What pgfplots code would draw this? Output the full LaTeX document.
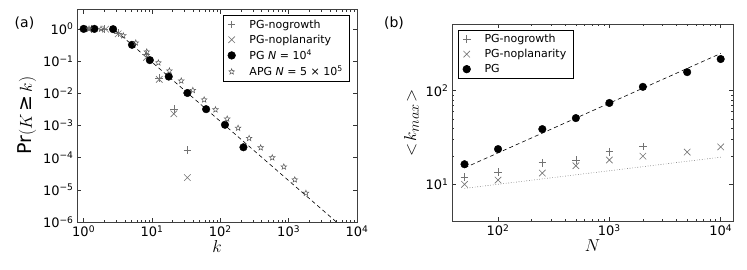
\documentclass[border=0pt]{standalone}
\usepackage{fontspec}
\setmainfont{DejaVu Sans}
\setsansfont{DejaVu Sans}
\usepackage{pgfplots}
\pgfplotsset{compat=1.18}
\pgfdeclareplotmark{ostar}{%
  \pgfpathmoveto{\pgfpointpolar{90}{\pgfplotmarksize}}%
  \pgfpathlineto{\pgfpointpolar{126}{0.42\pgfplotmarksize}}%
  \pgfpathlineto{\pgfpointpolar{162}{\pgfplotmarksize}}%
  \pgfpathlineto{\pgfpointpolar{198}{0.42\pgfplotmarksize}}%
  \pgfpathlineto{\pgfpointpolar{234}{\pgfplotmarksize}}%
  \pgfpathlineto{\pgfpointpolar{270}{0.42\pgfplotmarksize}}%
  \pgfpathlineto{\pgfpointpolar{306}{\pgfplotmarksize}}%
  \pgfpathlineto{\pgfpointpolar{342}{0.42\pgfplotmarksize}}%
  \pgfpathlineto{\pgfpointpolar{18}{\pgfplotmarksize}}%
  \pgfpathlineto{\pgfpointpolar{54}{0.42\pgfplotmarksize}}%
  \pgfpathclose\pgfusepathqstroke}
\pgfplotsset{
  myaxis/.style={
    scale only axis,
    axis line style={black!75, line width=0.8pt},
    tick style={black!80, line width=0.5pt},
    major tick length=4.5pt, minor tick length=2.2pt,
    tick label style={font=\fontsize{13}{15}\selectfont},
    legend style={font=\fontsize{11}{13}\selectfont, draw=black, line width=0.6pt,
      inner xsep=5pt, inner ysep=2pt, row sep=1.2pt, column sep=12pt, cells={anchor=west}},
    legend cell align=left,
  },
  pgm/.style={only marks, mark=+, mark size=3.8pt, black!55, mark options={line width=0.6pt}},
  xm/.style={only marks, mark=x, mark size=4.6pt, black!55, mark options={line width=0.6pt}},
  cm/.style={only marks, mark=*, mark size=3.8pt, black, mark options={fill=black}},
  sm/.style={only marks, mark=ostar, mark size=3pt, black!65, mark options={line width=0.5pt}},
}
\begin{document}
\begin{tikzpicture}
\path[use as bounding box] (0,0) rectangle (747pt,269pt);
\node at (24.5pt,246pt) {\fontsize{14}{16}\selectfont (a)};
\node at (394pt,246pt) {\fontsize{14}{16}\selectfont (b)};
\begin{loglogaxis}[myaxis,
  at={(77pt,47pt)}, anchor=south west,
  width=280pt, height=212.5pt,
  xmin=0.8, xmax=10000, ymin=1e-6, ymax=4,
  xtick={1,10,100,1000,10000},
  xticklabels={10\textsuperscript{0},10\textsuperscript{1},10\textsuperscript{2},10\textsuperscript{3},10\textsuperscript{4}},
  ytick={1,0.1,0.01,0.001,0.0001,0.00001,0.000001},
  yticklabels={10\textsuperscript{0},10\textsuperscript{−1},10\textsuperscript{−2},10\textsuperscript{−3},10\textsuperscript{−4},10\textsuperscript{−5},10\textsuperscript{−6}},
  xlabel={\fontsize{19}{21}\selectfont $k$},
  ylabel={\fontsize{19}{21}\selectfont Pr$(K\,$≥$\,k)$},
  xlabel style={yshift=3pt},
  ylabel style={yshift=0pt},
  legend style={at={(0.975,0.972)}, anchor=north east},
]
\addplot[pgm] coordinates {(1.3,1) (2.0,0.98) (3.2,0.74) (8.2,0.16) (12.8,0.030) (20.9,0.0032) (33,0.00017)};
\addlegendentry{PG-nogrowth}
\addplot[xm] coordinates {(1.2,1) (2.1,0.98) (3.2,0.70) (8.3,0.13) (12.8,0.027) (20.9,0.0023) (33,0.000024)};
\addlegendentry{PG-noplanarity}
\addplot[black, dash pattern=on 4pt off 3pt, line width=0.6pt, forget plot] coordinates {(3,0.85) (5000,1e-6)};
\addplot[cm] coordinates {(1,1) (1.44,1) (2.7,0.98) (5.1,0.32) (9.3,0.107) (17.6,0.033) (33,0.0102) (62,0.0032) (117,0.00105) (218,0.00021)};
\addlegendentry{PG \textit{N} = 10\textsuperscript{4}}
\addplot[sm] coordinates {(1.2,1) (1.8,0.99) (3.8,0.62) (5.8,0.37) (8.4,0.195) (12.4,0.089) (18,0.05) (26.8,0.0244) (39.6,0.0124) (58,0.0063) (85,0.0031) (126,0.0016) (182,0.00083) (264,0.0004) (390,0.000205) (575,0.0001) (850,0.000052) (1230,0.0000206) (1790,0.0000079)};
\addlegendentry{APG \textit{N} = 5 × 10\textsuperscript{5}}
\end{loglogaxis}
\begin{loglogaxis}[myaxis,
  at={(452pt,48pt)}, anchor=south west,
  width=281pt, height=197pt,
  xmin=38.6, xmax=12900, ymin=4.06, ymax=516,
  xtick={100,1000,10000},
  xticklabels={10\textsuperscript{2},10\textsuperscript{3},10\textsuperscript{4}},
  ytick={10,100},
  yticklabels={10\textsuperscript{1},10\textsuperscript{2}},
  xlabel={\fontsize{19}{21}\selectfont $N$},
  ylabel={\fontsize{19}{21}\selectfont $<\!k_{max}\!>$},
  xlabel style={yshift=3pt},
  ylabel style={yshift=0pt},
  legend style={at={(0.02,0.97)}, anchor=north west},
]
\addplot[pgm] coordinates {(50,11.9) (100,13.6) (250,17) (500,18.2) (1000,22.3) (2000,25.3)};
\addlegendentry{PG-nogrowth}
\addplot[xm] coordinates {(50,10) (100,11.1) (250,13.2) (500,15.8) (1000,18.2) (2000,20) (5000,22.1) (10000,25.1)};
\addlegendentry{PG-noplanarity}
\addplot[cm] coordinates {(50,16.4) (100,23.8) (250,38.9) (500,51) (1000,74) (2000,110) (5000,158) (10000,218)};
\addlegendentry{PG}
\addplot[black, dash pattern=on 4pt off 3pt, line width=0.6pt, forget plot] coordinates {(50,15) (10000,250)};
\addplot[black!60, dotted, line width=0.6pt, forget plot] coordinates {(50,9.06) (10000,19.5)};
\end{loglogaxis}
\end{tikzpicture}
\end{document}
